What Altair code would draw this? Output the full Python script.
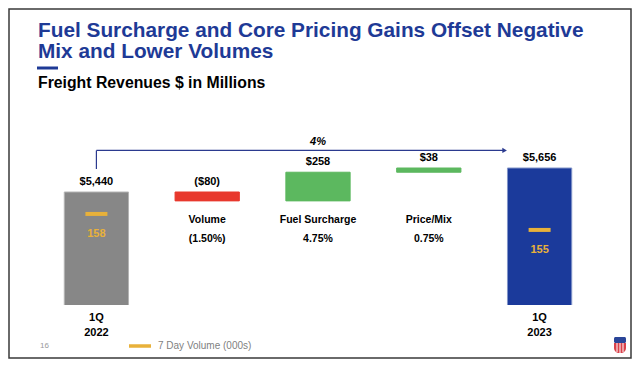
import altair as alt
import pandas as pd

# ---- data ----
categories = ["1Q 2022", "Volume", "Fuel Surcharge", "Price/Mix", "1Q 2023"]
amounts = [5440, -80, 258, 38, 5656]
kinds = ["total", "delta", "delta", "delta", "total"]
value_labels = ["$5,440", "($80)", "$258", "$38", "$5,656"]
pct_labels = ["", "(1.50%)", "4.75%", "0.75%", ""]
bar_colors = ["#878787", "#E8382D", "#5CB85F", "#5CB85F", "#1B3A9B"]
bar_strokes = ["#b4b4b4", "#E8382D", "#5CB85F", "#5CB85F", "#8194c8"]

volume_cats = ["1Q 2022", "1Q 2023"]
volume_values = [158, 155]
volume_series = "7 Day Volume (000s)"

growth_label = "4%"
title_lines = ["Fuel Surcharge and Core Pricing Gains Offset Negative", "Mix and Lower Volumes"]
subtitle = "Freight Revenues $ in Millions"
page_number = "16"

Y_DOMAIN = [4423, 6268]

# ---- waterfall table ----
rows = []
running = 0
for c, a, k, vl, pl, col, st in zip(categories, amounts, kinds, value_labels, pct_labels, bar_colors, bar_strokes):
    if k == "total":
        start, end = 0, a
        running = a
    else:
        start, end = running, running + a
        running = end
    rows.append(dict(cat=c, start=start, end=end, top=max(start, end), vlabel=vl,
                     plabel=pl, fill=col, stroke=st, kind=k))
wf = pd.DataFrame(rows)
mid_df = wf[wf.kind == "delta"]

vol = pd.DataFrame(dict(cat=volume_cats, v=volume_values, series=[volume_series] * 2))

arrow_df = pd.DataFrame([dict(frm=categories[0], to=categories[-1], mid=categories[2],
                              level=5814, base=5647, label=growth_label)])
dummy = pd.DataFrame({"d": [0]})

FONT = "Liberation Sans"
TBLUE = "#1E3A96"

x_scale = alt.Scale(domain=categories, paddingInner=0.42, paddingOuter=0.21)
x_axis = alt.Axis(title=None, domain=False, ticks=False, labelAngle=0,
                  labelExpr="substring(datum.value, 0, 2) == '1Q' ? split(datum.value, ' ') : ''",
                  labelFont=FONT, labelFontSize=11, labelFontWeight="bold", labelColor="black",
                  labelPadding=6, labelLineHeight=15, labelBaseline="top")


def xf(field):
    return alt.X(field + ":N", scale=x_scale, axis=x_axis)


y_scale = alt.Scale(domain=Y_DOMAIN, nice=False, zero=False)


def yf(field):
    return alt.Y(field + ":Q", scale=y_scale, axis=None)


bars = alt.Chart(wf).mark_bar(strokeWidth=1, clip=True).encode(
    x=xf("cat"), y=yf("start"), y2="end:Q",
    fill=alt.Fill("fill:N", scale=None),
    stroke=alt.Stroke("stroke:N", scale=None),
)

value_text = alt.Chart(wf).mark_text(font=FONT, fontSize=11, fontWeight="bold", color="black",
                                     baseline="bottom", dy=-5).encode(
    x=xf("cat"), y=yf("top"), text="vlabel:N")

cat_text = alt.Chart(mid_df).mark_text(font=FONT, fontSize=10.5, fontWeight="bold", color="black").encode(
    x=xf("cat"), y=alt.value(120), text="cat:N")
pct_text = alt.Chart(mid_df).mark_text(font=FONT, fontSize=10.5, fontWeight="bold", color="black").encode(
    x=xf("cat"), y=alt.value(139), text="plabel:N")

ACOL = "#2B3A8F"
arrow_v = alt.Chart(arrow_df).mark_rule(color=ACOL, strokeWidth=1.2).encode(
    x=xf("frm"), y=yf("base"), y2="level:Q")
arrow_h = alt.Chart(arrow_df).mark_rule(color=ACOL, strokeWidth=1.2, x2Offset=-36).encode(
    x=xf("frm"), x2="to:N", y=yf("level"))
arrow_head = alt.Chart(arrow_df).mark_point(shape="triangle-right", filled=True, color=ACOL,
                                            size=28, xOffset=-35, opacity=1).encode(
    x=xf("to"), y=yf("level"))
arrow_text = alt.Chart(arrow_df).mark_text(font=FONT, fontSize=11, fontStyle="italic", fontWeight="bold",
                                           color="black", baseline="bottom", dy=-3).encode(
    x=xf("mid"), y=yf("level"), text="label:N")

# ---- slide decorations ----
frame = alt.Chart(dummy).mark_rect(fill="transparent", stroke="#3a3a3a", strokeWidth=1.5).encode(
    x=alt.value(-32), x2=alt.value(590), y=alt.value(-91), y2=alt.value(258))
t1 = alt.Chart(dummy).mark_text(font=FONT, fontSize=20.8, fontWeight="bold", color=TBLUE,
                                align="left", baseline="alphabetic").encode(
    x=alt.value(-3), y=alt.value(-62.8), text=alt.value(title_lines[0]))
t2 = alt.Chart(dummy).mark_text(font=FONT, fontSize=20.8, fontWeight="bold", color=TBLUE,
                                align="left", baseline="alphabetic").encode(
    x=alt.value(-3), y=alt.value(-41.8), text=alt.value(title_lines[1]))
tbar = alt.Chart(dummy).mark_rule(color=TBLUE, strokeWidth=3).encode(
    x=alt.value(-4), x2=alt.value(17), y=alt.value(-32))
st = alt.Chart(dummy).mark_text(font=FONT, fontSize=15.8, fontWeight="bold", color="black",
                                align="left", baseline="alphabetic").encode(
    x=alt.value(-3), y=alt.value(-12), text=alt.value(subtitle))
pnum = alt.Chart(dummy).mark_text(font=FONT, fontSize=8, color="#9a9a9a", align="left").encode(
    x=alt.value(-1), y=alt.value(246), text=alt.value(page_number))
logo_top = alt.Chart(dummy).mark_rect(fill="#2a4598", cornerRadius=1.5).encode(
    x=alt.value(573), x2=alt.value(585), y=alt.value(237), y2=alt.value(243))
logo_bot = alt.Chart(dummy).mark_rect(fill="#d9414a", cornerRadiusBottomLeft=5, cornerRadiusBottomRight=5).encode(
    x=alt.value(573), x2=alt.value(585), y=alt.value(243), y2=alt.value(253))
logo_w1 = alt.Chart(dummy).mark_rule(color="white", strokeWidth=1).encode(
    x=alt.value(576), y=alt.value(243), y2=alt.value(252))
logo_w2 = alt.Chart(dummy).mark_rule(color="white", strokeWidth=1).encode(
    x=alt.value(579), y=alt.value(243), y2=alt.value(253))
logo_w3 = alt.Chart(dummy).mark_rule(color="white", strokeWidth=1).encode(
    x=alt.value(582), y=alt.value(243), y2=alt.value(252))

main = alt.layer(frame, t1, t2, tbar, st, pnum, logo_top, logo_bot, logo_w1, logo_w2, logo_w3,
                 bars, value_text, cat_text, pct_text, arrow_v, arrow_h, arrow_head, arrow_text)

v_scale = alt.Scale(domain=[140.9, 179.4], nice=False, zero=False)
ORANGE = "#E8B13A"
vol_tick = alt.Chart(vol).mark_tick(size=22, thickness=4, opacity=1).encode(
    x=xf("cat"),
    y=alt.Y("v:Q", scale=v_scale, axis=None),
    color=alt.Color("series:N", scale=alt.Scale(range=[ORANGE]),
                    legend=alt.Legend(orient="none", legendX=86, legendY=233, title=None,
                                      symbolType="stroke", symbolStrokeWidth=3.5, symbolSize=484,
                                      symbolStrokeColor=ORANGE, symbolFillColor=ORANGE,
                                      labelFont=FONT, labelFontSize=10, labelColor="#7f7f7f",
                                      labelOffset=5)),
)
vol_text = alt.Chart(vol).mark_text(font=FONT, fontSize=11, fontWeight="bold", color=ORANGE, dy=20).encode(
    x=xf("cat"), y=alt.Y("v:Q", scale=v_scale, axis=None), text="v:Q")
volume = alt.layer(vol_tick, vol_text)

chart = alt.layer(main, volume).resolve_scale(y="independent").properties(
    width=554, height=205,
    autosize=alt.AutoSizeParams(type="none"),
    padding={"left": 33, "top": 92, "right": 37, "bottom": 54},
).configure(font=FONT).configure_view(strokeWidth=0, stroke="transparent")

chart.save("out.html", embed_options={"renderer": "svg", "actions": False})
